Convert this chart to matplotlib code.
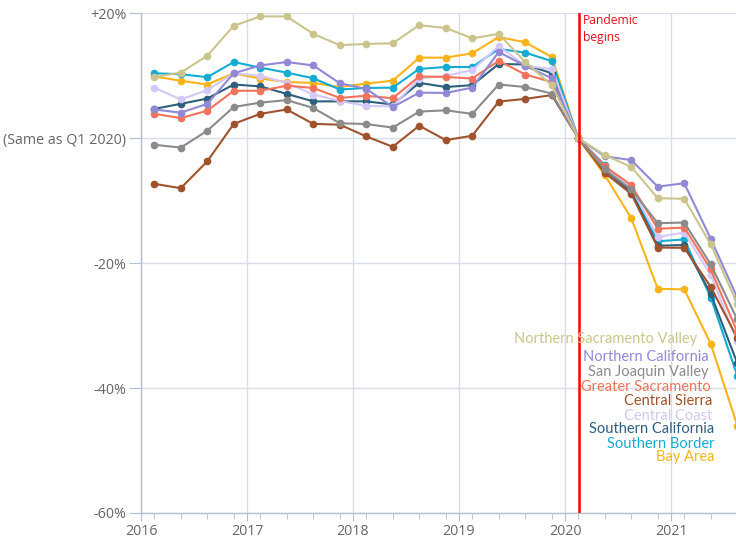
import matplotlib
matplotlib.use("Agg")
import matplotlib.pyplot as plt
from matplotlib.ticker import FixedLocator

# Quarters 2016 Q1 .. 2021 Q3 (plotted at mid-quarter)
quarters = [f"{y} Q{q}" for y in range(2016, 2022) for q in range(1, 5)][:23]

regions = ["Northern Sacramento Valley", "Northern California", "San Joaquin Valley",
           "Greater Sacramento", "Central Sierra", "Central Coast",
           "Southern California", "Southern Border", "Bay Area"]
colors = ["#cbc58d", "#9189d6", "#8b8b8b", "#f2735c", "#a0522d", "#d3c8f7",
          "#2e5f7d", "#14acd2", "#fbb319"]

north_sac = [9.8, 10.5, 13.2, 18.0, 19.5, 19.5, 16.7, 14.9, 15.1, 15.2, 18.1, 17.65, 16.0, 16.7, 12.2, 8.5, 0, -2.7, -4.6, -9.6, -9.7, -17.0, -26.5]
north_cal = [4.6, 4.1, 5.5, 10.4, 11.65, 12.2, 11.65, 8.8, 7.9, 5.0, 7.3, 7.25, 8.1, 13.8, 11.6, 9.6, 0, -2.9, -3.5, -7.75, -7.2, -16.1, -25.5]
san_joaquin = [-1.05, -1.5, 1.2, 5.0, 5.7, 6.1, 4.85, 2.4, 2.27, 1.7, 4.26, 4.47, 3.9, 8.6, 8.2, 7.15, 0, -5.0, -8.2, -13.6, -13.5, -20.2, -29.0]
greater_sac = [3.9, 3.23, 4.4, 7.6, 7.6, 8.4, 8.05, 6.45, 6.8, 6.4, 9.9, 9.8, 9.56, 12.4, 10.2, 9.0, 0, -4.5, -7.5, -14.5, -14.3, -21.0, -31.0]
central_sierra = [-7.3, -8.0, -3.7, 2.3, 3.9, 4.6, 2.3, 2.17, 0.29, -1.37, 2.0, -0.3, 0.4, 5.87, 6.3, 6.9, 0, -5.55, -8.9, -17.5, -17.55, -23.8, -32.0]
central_coast = [8.1, 6.2, 7.7, 10.4, 10.0, 8.86, 7.0, 5.97, 5.16, 5.1, 9.56, 10.0, 10.9, 14.76, 11.6, 11.06, 0, -4.8, -7.9, -15.8, -15.1, -21.9, -32.5]
south_cal = [4.7, 5.5, 6.35, 8.6, 8.3, 7.1, 5.9, 5.9, 5.9, 5.4, 8.86, 8.2, 8.5, 11.9, 11.8, 10.4, 0, -5.1, -8.6, -17.2, -17.1, -24.9, -36.0]
south_border = [10.4, 10.25, 9.77, 12.2, 11.3, 10.5, 9.6, 7.8, 8.05, 8.1, 11.1, 11.4, 11.4, 14.3, 13.7, 12.35, 0, -4.3, -8.4, -16.5, -16.2, -25.5, -38.0]
bay_area = [9.9, 9.2, 8.6, 10.4, 9.56, 9.0, 8.86, 8.2, 8.76, 9.2, 12.9, 12.9, 13.6, 16.2, 15.35, 13.0, 0, -5.9, -12.8, -24.1, -24.2, -32.9, -46.0]

series = [north_sac, north_cal, san_joaquin, greater_sac, central_sierra,
          central_coast, south_cal, south_border, bay_area]

# label placement (data coords: right edge x, center y)
label_x = [2021.245, 2021.358, 2021.356, 2021.377, 2021.387, 2021.387, 2021.406, 2021.406, 2021.406]
label_y = [-32.2, -35.0, -37.5, -39.9, -42.1, -44.4, -46.6, -48.9, -51.0]

ytick_vals = [20, 0, -20, -40, -60]
ytick_labels = ["+20%", "(Same as Q1 2020)", "-20%", "-40%", "-60%"]
years = [2016, 2017, 2018, 2019, 2020, 2021]
pandemic_x = 2020.13


def qpos(label):
    y, q = label.split(" Q")
    return int(y) + (int(q) - 1) * 0.25 + 0.125


xs = [qpos(q) for q in quarters]

fig = plt.figure(figsize=(7.36, 5.42), dpi=100)
ax = fig.add_axes([141 / 736, 29 / 542, 595 / 736, (513 - 13.3) / 542])

grid_c = "#d8dee7"
spine_c = "#b3bfcf"
txt_c = "#666666"
font = "Open Sans"

for v in ytick_vals:
    ax.axhline(v, color=grid_c, lw=1, zorder=0)
for yv in years:
    ax.axvline(yv, color=grid_c, lw=1, zorder=0)

for vals, c in zip(reversed(series), reversed(colors)):
    ax.plot(xs, vals, color=c, lw=1.5, marker="o", ms=4.5, zorder=3, clip_on=True)

ax.axvline(pandemic_x, color="#ff0000", lw=1.8, zorder=5)
ax.text(pandemic_x + 0.04, 19.9, "Pandemic\nbegins", color="#e8101a", fontsize=8.7,
        family=font, va="top", ha="left", linespacing=1.4, zorder=6)

for name, c, lx, ly in zip(regions, colors, label_x, label_y):
    ax.text(lx, ly, name, color=c, fontsize=10.5, family="Lato", ha="right",
            va="center", zorder=6)

ax.set_xlim(2016, 2016 + 595 / 106)
ax.set_ylim(-60, 20)

ax.set_yticks(ytick_vals)
ax.set_yticklabels(ytick_labels, family=font, fontsize=10.3, color=txt_c)
ax.set_xticks(years)
ax.set_xticklabels([str(y) for y in years], family=font, fontsize=10.3, color=txt_c)
ax.xaxis.set_minor_locator(FixedLocator(xs))

for s in ["top", "right"]:
    ax.spines[s].set_visible(False)
for s in ["left", "bottom"]:
    ax.spines[s].set_color(spine_c)
    ax.spines[s].set_linewidth(1)

ax.tick_params(axis="y", length=9, color=spine_c, pad=1.5)
ax.tick_params(axis="x", which="major", length=6, color=spine_c, pad=2)
ax.tick_params(axis="x", which="minor", length=4, color=spine_c)

fig.savefig("out.png", dpi=100)
